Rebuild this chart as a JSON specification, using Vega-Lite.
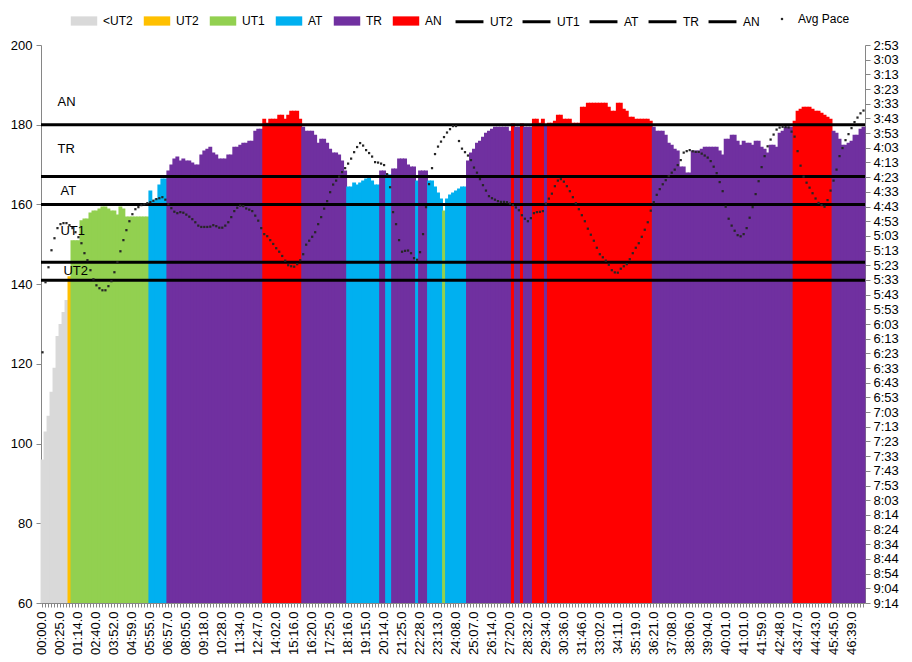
{
  "$schema": "https://vega.github.io/schema/vega-lite/v6.json",
  "width": 824,
  "height": 558,
  "autosize": {"type": "none"},
  "padding": {"left": 41, "top": 45, "right": 47, "bottom": 59},
  "background": "white",
  "config": {"font": "Liberation Sans", "view": {"stroke": null}},
  "data": {"values": [
{"i":0,"hr":96,"z":"<UT2","p":382.6},{"i":1,"hr":103,"z":"<UT2","p":334.8},{"i":2,"hr":107,"z":"<UT2","p":324.6},{"i":3,"hr":113,"z":"<UT2","p":313.0},{"i":4,"hr":119,"z":"<UT2","p":304.8},{"i":5,"hr":127,"z":"<UT2","p":297.9},{"i":6,"hr":130,"z":"<UT2","p":295.2},{"i":7,"hr":133,"z":"<UT2","p":294.5},{"i":8,"hr":136,"z":"<UT2","p":294.5},{"i":9,"hr":142,"z":"UT2","p":295.9},
{"i":10,"hr":151,"z":"UT1","p":297.9},{"i":11,"hr":151,"z":"UT1","p":300.7},{"i":12,"hr":151,"z":"UT1","p":304.1},{"i":13,"hr":156,"z":"UT1","p":308.2},{"i":14,"hr":156.5,"z":"UT1","p":315.0},{"i":15,"hr":156.5,"z":"UT1","p":319.8},{"i":16,"hr":158,"z":"UT1","p":326.6},{"i":17,"hr":158.5,"z":"UT1","p":332.8},{"i":18,"hr":158.5,"z":"UT1","p":336.9},{"i":19,"hr":159,"z":"UT1","p":338.9},
{"i":20,"hr":159.5,"z":"UT1","p":340.3},{"i":21,"hr":159.5,"z":"UT1","p":340.3},{"i":22,"hr":159,"z":"UT1","p":337.5},{"i":23,"hr":158.5,"z":"UT1","p":334.1},{"i":24,"hr":158.5,"z":"UT1","p":328.0},{"i":25,"hr":157.5,"z":"UT1","p":321.2},{"i":26,"hr":159.5,"z":"UT1","p":313.7},{"i":27,"hr":159,"z":"UT1","p":306.1},{"i":28,"hr":157,"z":"UT1","p":299.3},{"i":29,"hr":157,"z":"UT1","p":293.2},
{"i":30,"hr":157,"z":"UT1","p":288.4},{"i":31,"hr":157,"z":"UT1","p":285.0},{"i":32,"hr":157,"z":"UT1","p":283.6},{"i":33,"hr":157,"z":"UT1","p":282.2},{"i":34,"hr":157,"z":"UT1","p":281.6},{"i":35,"hr":157,"z":"UT1","p":280.9},{"i":36,"hr":163.5,"z":"AT","p":280.2},{"i":37,"hr":161,"z":"AT","p":279.2},{"i":38,"hr":161.5,"z":"AT","p":278.1},{"i":39,"hr":165,"z":"AT","p":277.5},
{"i":40,"hr":166.5,"z":"AT","p":276.8},{"i":41,"hr":166.5,"z":"AT","p":278.5},{"i":42,"hr":168.5,"z":"TR","p":281.6},{"i":43,"hr":170,"z":"TR","p":284.3},{"i":44,"hr":171.5,"z":"TR","p":286.7},{"i":45,"hr":172,"z":"TR","p":287.7},{"i":46,"hr":171,"z":"TR","p":287.0},{"i":47,"hr":171.5,"z":"TR","p":287.4},{"i":48,"hr":171,"z":"TR","p":288.7},{"i":49,"hr":171,"z":"TR","p":290.1},
{"i":50,"hr":170.5,"z":"TR","p":291.8},{"i":51,"hr":170,"z":"TR","p":293.9},{"i":52,"hr":170,"z":"TR","p":296.2},{"i":53,"hr":172.5,"z":"TR","p":297.1},{"i":54,"hr":173.5,"z":"TR","p":297.1},{"i":55,"hr":174,"z":"TR","p":297.1},{"i":56,"hr":174.5,"z":"TR","p":296.9},{"i":57,"hr":173,"z":"TR","p":295.9},{"i":58,"hr":172.5,"z":"TR","p":296.6},{"i":59,"hr":171.5,"z":"TR","p":297.6},
{"i":60,"hr":171.5,"z":"TR","p":297.6},{"i":61,"hr":171.5,"z":"TR","p":296.2},{"i":62,"hr":172.5,"z":"TR","p":293.9},{"i":63,"hr":172.5,"z":"TR","p":290.4},{"i":64,"hr":174.5,"z":"TR","p":286.3},{"i":65,"hr":174.5,"z":"TR","p":284.0},{"i":66,"hr":175,"z":"TR","p":282.6},{"i":67,"hr":175.5,"z":"TR","p":282.9},{"i":68,"hr":175.5,"z":"TR","p":284.5},{"i":69,"hr":176,"z":"TR","p":285.3},
{"i":70,"hr":176,"z":"TR","p":286.3},{"i":71,"hr":178.5,"z":"TR","p":289.4},{"i":72,"hr":179,"z":"TR","p":292.8},{"i":73,"hr":179,"z":"TR","p":297.9},{"i":74,"hr":181.5,"z":"AN","p":302.0},{"i":75,"hr":180.5,"z":"AN","p":303.4},{"i":76,"hr":181.5,"z":"AN","p":306.1},{"i":77,"hr":181.5,"z":"AN","p":308.7},{"i":78,"hr":181.5,"z":"AN","p":311.6},{"i":79,"hr":182.5,"z":"AN","p":314.0},
{"i":80,"hr":182.5,"z":"AN","p":316.9},{"i":81,"hr":181.5,"z":"AN","p":320.1},{"i":82,"hr":182.5,"z":"AN","p":323.2},{"i":83,"hr":183.5,"z":"AN","p":323.9},{"i":84,"hr":183.5,"z":"AN","p":324.2},{"i":85,"hr":183.5,"z":"AN","p":322.5},{"i":86,"hr":181.5,"z":"AN","p":319.8},{"i":87,"hr":179.5,"z":"TR","p":315.7},{"i":88,"hr":178.5,"z":"TR","p":309.2},{"i":89,"hr":178.5,"z":"TR","p":306.5},
{"i":90,"hr":178.5,"z":"TR","p":303.8},{"i":91,"hr":177.5,"z":"TR","p":300.7},{"i":92,"hr":175.5,"z":"TR","p":295.2},{"i":93,"hr":176.5,"z":"TR","p":290.4},{"i":94,"hr":176.5,"z":"TR","p":284.6},{"i":95,"hr":175.5,"z":"TR","p":279.5},{"i":96,"hr":174,"z":"TR","p":273.4},{"i":97,"hr":173,"z":"TR","p":268.2},{"i":98,"hr":173,"z":"TR","p":265.5},{"i":99,"hr":172.5,"z":"TR","p":262.8},
{"i":100,"hr":171,"z":"TR","p":259.7},{"i":101,"hr":168.5,"z":"TR","p":257.0},{"i":102,"hr":164.5,"z":"AT","p":253.9},{"i":103,"hr":164.5,"z":"AT","p":250.5},{"i":104,"hr":165.5,"z":"AT","p":246.1},{"i":105,"hr":165,"z":"AT","p":242.6},{"i":106,"hr":165.5,"z":"AT","p":239.9},{"i":107,"hr":166,"z":"AT","p":241.6},{"i":108,"hr":166.5,"z":"AT","p":244.7},{"i":109,"hr":167,"z":"AT","p":246.7},
{"i":110,"hr":166,"z":"AT","p":249.1},{"i":111,"hr":165,"z":"AT","p":252.9},{"i":112,"hr":165,"z":"AT","p":253.2},{"i":113,"hr":168.5,"z":"TR","p":253.9},{"i":114,"hr":168.5,"z":"TR","p":254.9},{"i":115,"hr":167.5,"z":"AT","p":261.1},{"i":116,"hr":167.5,"z":"AT","p":270.0},{"i":117,"hr":169,"z":"TR","p":287.0},{"i":118,"hr":169,"z":"TR","p":295.2},{"i":119,"hr":171.5,"z":"TR","p":306.1},
{"i":120,"hr":171.5,"z":"TR","p":314.0},{"i":121,"hr":171.5,"z":"TR","p":313.4},{"i":122,"hr":170,"z":"TR","p":313.2},{"i":123,"hr":169.5,"z":"TR","p":315.0},{"i":124,"hr":169.5,"z":"TR","p":318.4},{"i":125,"hr":166,"z":"AT","p":319.5},{"i":126,"hr":168.5,"z":"TR","p":314.3},{"i":127,"hr":168.5,"z":"TR","p":302.0},{"i":128,"hr":168.5,"z":"TR","p":283.6},{"i":129,"hr":166,"z":"AT","p":267.9},
{"i":130,"hr":166,"z":"AT","p":257.0},{"i":131,"hr":164.5,"z":"AT","p":247.4},{"i":132,"hr":163,"z":"AT","p":242.3},{"i":133,"hr":161.5,"z":"AT","p":238.9},{"i":134,"hr":158.5,"z":"UT1","p":235.8},{"i":135,"hr":161.5,"z":"AT","p":232.7},{"i":136,"hr":162.5,"z":"AT","p":230.4},{"i":137,"hr":163,"z":"AT","p":228.3},{"i":138,"hr":163.5,"z":"AT","p":228.3},{"i":139,"hr":164,"z":"AT","p":238.5},
{"i":140,"hr":164.5,"z":"AT","p":243.7},{"i":141,"hr":164.5,"z":"AT","p":246.1},{"i":142,"hr":171,"z":"TR","p":248.4},{"i":143,"hr":173,"z":"TR","p":251.5},{"i":144,"hr":174,"z":"TR","p":256.6},{"i":145,"hr":175.5,"z":"TR","p":260.1},{"i":146,"hr":176,"z":"TR","p":264.5},{"i":147,"hr":177,"z":"TR","p":268.6},{"i":148,"hr":178,"z":"TR","p":272.3},{"i":149,"hr":178.5,"z":"TR","p":276.1},
{"i":150,"hr":179,"z":"TR","p":277.5},{"i":151,"hr":179.5,"z":"TR","p":278.5},{"i":152,"hr":179.5,"z":"TR","p":279.5},{"i":153,"hr":179.5,"z":"TR","p":280.0},{"i":154,"hr":179.5,"z":"TR","p":280.0},{"i":155,"hr":179.5,"z":"TR","p":280.2},{"i":156,"hr":178.5,"z":"TR","p":281.2},{"i":157,"hr":180.3,"z":"AN","p":282.2},{"i":158,"hr":179.5,"z":"TR","p":283.8},{"i":159,"hr":179.5,"z":"TR","p":285.7},
{"i":160,"hr":180.3,"z":"AN","p":289.1},{"i":161,"hr":179.5,"z":"TR","p":291.5},{"i":162,"hr":179.5,"z":"TR","p":293.2},{"i":163,"hr":179.5,"z":"TR","p":291.1},{"i":164,"hr":181.5,"z":"AN","p":287.7},{"i":165,"hr":181.5,"z":"AN","p":287.0},{"i":166,"hr":180.5,"z":"AN","p":286.8},{"i":167,"hr":181.5,"z":"AN","p":286.3},{"i":168,"hr":179.8,"z":"TR","p":281.2},{"i":169,"hr":180.5,"z":"AN","p":277.8},
{"i":170,"hr":180.5,"z":"AN","p":274.4},{"i":171,"hr":181,"z":"AN","p":269.3},{"i":172,"hr":182.5,"z":"AN","p":265.5},{"i":173,"hr":182.5,"z":"AN","p":264.5},{"i":174,"hr":181.5,"z":"AN","p":266.2},{"i":175,"hr":181.5,"z":"AN","p":269.3},{"i":176,"hr":181.5,"z":"AN","p":272.7},{"i":177,"hr":180.5,"z":"AN","p":276.8},{"i":178,"hr":180.5,"z":"AN","p":280.9},{"i":179,"hr":180.5,"z":"AN","p":285.0},
{"i":180,"hr":184.5,"z":"AN","p":289.1},{"i":181,"hr":184.5,"z":"AN","p":293.2},{"i":182,"hr":185.5,"z":"AN","p":298.3},{"i":183,"hr":185.5,"z":"AN","p":302.4},{"i":184,"hr":185.5,"z":"AN","p":306.5},{"i":185,"hr":185.5,"z":"AN","p":311.3},{"i":186,"hr":185.5,"z":"AN","p":315.7},{"i":187,"hr":185.5,"z":"AN","p":317.8},{"i":188,"hr":185.5,"z":"AN","p":320.1},{"i":189,"hr":184.5,"z":"AN","p":322.9},
{"i":190,"hr":183.5,"z":"AN","p":326.6},{"i":191,"hr":183.5,"z":"AN","p":328.1},{"i":192,"hr":185.5,"z":"AN","p":328.3},{"i":193,"hr":185.5,"z":"AN","p":325.6},{"i":194,"hr":184,"z":"AN","p":323.9},{"i":195,"hr":183.5,"z":"AN","p":322.5},{"i":196,"hr":182,"z":"AN","p":319.1},{"i":197,"hr":182,"z":"AN","p":315.0},{"i":198,"hr":181.5,"z":"AN","p":311.3},{"i":199,"hr":181.5,"z":"AN","p":308.2},
{"i":200,"hr":181.5,"z":"AN","p":303.8},{"i":201,"hr":181.5,"z":"AN","p":299.0},{"i":202,"hr":181.5,"z":"AN","p":293.9},{"i":203,"hr":181,"z":"AN","p":286.0},{"i":204,"hr":179.5,"z":"TR","p":280.2},{"i":205,"hr":178.5,"z":"TR","p":275.2},{"i":206,"hr":178.5,"z":"TR","p":271.3},{"i":207,"hr":178.5,"z":"TR","p":268.0},{"i":208,"hr":177.5,"z":"TR","p":265.2},{"i":209,"hr":175.5,"z":"TR","p":262.4},
{"i":210,"hr":175,"z":"TR","p":260.1},{"i":211,"hr":174,"z":"TR","p":258.0},{"i":212,"hr":173.5,"z":"TR","p":254.9},{"i":213,"hr":169.5,"z":"TR","p":251.5},{"i":214,"hr":169.5,"z":"TR","p":246.4},{"i":215,"hr":168,"z":"TR","p":245.4},{"i":216,"hr":168,"z":"TR","p":244.7},{"i":217,"hr":173.5,"z":"TR","p":245.5},{"i":218,"hr":173.5,"z":"TR","p":245.9},{"i":219,"hr":173.5,"z":"TR","p":245.9},
{"i":220,"hr":174,"z":"TR","p":247.1},{"i":221,"hr":174.5,"z":"TR","p":248.4},{"i":222,"hr":174.5,"z":"TR","p":249.8},{"i":223,"hr":174.5,"z":"TR","p":252.2},{"i":224,"hr":174.5,"z":"TR","p":256.0},{"i":225,"hr":174.5,"z":"TR","p":260.4},{"i":226,"hr":173.5,"z":"TR","p":266.5},{"i":227,"hr":172.5,"z":"TR","p":272.7},{"i":228,"hr":176.5,"z":"TR","p":283.3},{"i":229,"hr":176.5,"z":"TR","p":291.5},
{"i":230,"hr":177.5,"z":"TR","p":296.2},{"i":231,"hr":177.5,"z":"TR","p":299.7},{"i":232,"hr":176,"z":"TR","p":302.7},{"i":233,"hr":175,"z":"TR","p":303.5},{"i":234,"hr":176,"z":"TR","p":302.0},{"i":235,"hr":175.5,"z":"TR","p":297.9},{"i":236,"hr":175.5,"z":"TR","p":290.8},{"i":237,"hr":175,"z":"TR","p":283.6},{"i":238,"hr":176,"z":"TR","p":274.7},{"i":239,"hr":176,"z":"TR","p":265.9},
{"i":240,"hr":174.5,"z":"TR","p":256.3},{"i":241,"hr":174,"z":"TR","p":248.8},{"i":242,"hr":173,"z":"TR","p":242.1},{"i":243,"hr":175,"z":"TR","p":237.5},{"i":244,"hr":175,"z":"TR","p":234.1},{"i":245,"hr":174.5,"z":"TR","p":230.7},{"i":246,"hr":178,"z":"TR","p":229.3},{"i":247,"hr":178.5,"z":"TR","p":228.8},{"i":248,"hr":179.5,"z":"TR","p":229.0},{"i":249,"hr":179.5,"z":"TR","p":229.2},
{"i":250,"hr":179.5,"z":"TR","p":232.1},{"i":251,"hr":181,"z":"AN","p":235.5},{"i":252,"hr":183.5,"z":"AN","p":245.4},{"i":253,"hr":184,"z":"AN","p":255.3},{"i":254,"hr":184.5,"z":"AN","p":262.8},{"i":255,"hr":184.5,"z":"AN","p":266.9},{"i":256,"hr":184.5,"z":"AN","p":270.3},{"i":257,"hr":184,"z":"AN","p":274.1},{"i":258,"hr":183.5,"z":"AN","p":277.7},{"i":259,"hr":183.5,"z":"AN","p":280.7},
{"i":260,"hr":183,"z":"AN","p":282.2},{"i":261,"hr":182.5,"z":"AN","p":283.3},{"i":262,"hr":182,"z":"AN","p":278.8},{"i":263,"hr":181.5,"z":"AN","p":272.3},{"i":264,"hr":178.5,"z":"TR","p":265.5},{"i":265,"hr":178,"z":"TR","p":258.0},{"i":266,"hr":176.5,"z":"TR","p":248.8},{"i":267,"hr":175,"z":"TR","p":243.3},{"i":268,"hr":175,"z":"TR","p":237.9},{"i":269,"hr":175.5,"z":"TR","p":233.8},
{"i":270,"hr":176,"z":"TR","p":229.7},{"i":271,"hr":177.5,"z":"TR","p":225.6},{"i":272,"hr":177.5,"z":"TR","p":222.5},{"i":273,"hr":179,"z":"TR","p":219.6},{"i":274,"hr":179.5,"z":"TR","p":217.7}
  ]},
  "resolve": {"scale": {"y": "independent"}, "axis": {"y": "independent"}},
  "layer": [
    {
      "layer": [
        {
          "mark": {"type": "bar", "width": {"band": 1.3}},
          "encoding": {
            "x": {"field": "i", "type": "ordinal", "scale": {"paddingInner": 0, "paddingOuter": 0},
              "axis": {"title": null, "labelAngle": 270, "labelOverlap": false, "labelFontSize": 13, "labelColor": "#000", "labelPadding": 4, "tickSize": 4, "tickColor": "#868686", "domainColor": "#868686",
                "labelExpr": "datum.value % 6 == 0 ? ['00:00.0','00:25.0','01:14.0','02:40.0','03:52.0','04:59.0','05:55.0','06:57.0','08:05.0','09:18.0','10:28.0','11:34.0','12:47.0','14:02.0','15:16.0','16:20.0','17:25.0','18:16.0','19:15.0','20:14.0','21:25.0','22:28.0','23:13.0','24:08.0','25:07.0','26:14.0','27:20.0','28:32.0','29:34.0','30:36.0','31:46.0','33:02.0','34:11.0','35:19.0','36:21.0','37:08.0','38:06.0','39:04.0','40:01.0','41:01.0','41:59.0','42:48.0','43:47.0','44:43.0','45:45.0','46:39.0'][datum.value / 6] : ''"}},
            "y": {"field": "hr", "type": "quantitative", "scale": {"domain": [60, 200], "nice": false, "zero": false},
              "axis": {"title": null, "orient": "left", "values": [60, 80, 100, 120, 140, 160, 180, 200], "grid": false, "labelFontSize": 13, "labelColor": "#000", "tickSize": 5, "labelPadding": 4, "tickColor": "#868686", "domainColor": "#868686"}},
            "y2": {"datum": 60},
            "color": {"field": "z", "type": "nominal",
              "scale": {"domain": ["<UT2", "UT2", "UT1", "AT", "TR", "AN"],
                        "range": ["#D9D9D9", "#FFC000", "#92D050", "#00B0F0", "#7030A0", "#FF0000"]},
              "legend": {"title": null, "orient": "none", "legendX": 29, "legendY": -38, "direction": "horizontal",
                "symbolSize": 700, "symbolType": "M-1,-0.35H1V0.35H-1Z", "symbolOpacity": 1, "labelFontSize": 12, "labelColor": "#000", "labelOffset": 5, "columnPadding": 10}}
          }
        },
        {
          "data": {"values": [
            {"z": "UT2", "hr": 141},
            {"z": "UT1", "hr": 145.5},
            {"z": "AT", "hr": 160},
            {"z": "TR", "hr": 167},
            {"z": "AN", "hr": 180}
          ]},
          "mark": {"type": "rule", "strokeWidth": 3},
          "encoding": {
            "y": {"field": "hr", "type": "quantitative"},
            "stroke": {"field": "z", "type": "nominal",
              "scale": {"domain": ["UT2", "UT1", "AT", "TR", "AN"], "range": ["#000000", "#000000", "#000000", "#000000", "#000000"]},
              "legend": {"title": null, "orient": "none", "legendX": 413, "legendY": -39, "direction": "horizontal",
                "symbolType": "stroke", "symbolSize": 780, "symbolStrokeWidth": 3, "symbolOpacity": 1, "labelFontSize": 12, "labelColor": "#000", "labelOffset": 5, "columnPadding": 3}}
          }
        },
        {
          "data": {"values": [
            {"label": "AN", "hr": 185.6, "i": 5},
            {"label": "TR", "hr": 173.9, "i": 5},
            {"label": "AT", "hr": 163.4, "i": 6},
            {"label": "UT1", "hr": 153.3, "i": 6},
            {"label": "UT2", "hr": 143.3, "i": 7}
          ]},
          "mark": {"type": "text", "align": "left", "baseline": "middle", "fontSize": 13, "color": "#000"},
          "encoding": {
            "x": {"field": "i", "type": "ordinal"},
            "y": {"field": "hr", "type": "quantitative"},
            "text": {"field": "label"}
          }
        }
      ]
    },
    {
      "mark": {"type": "point", "filled": true, "size": 5, "opacity": 1, "color": "#262626"},
      "encoding": {
        "x": {"field": "i", "type": "ordinal"},
        "y": {"field": "p", "type": "quantitative",
          "scale": {"domain": [173, 553.6], "reverse": true, "nice": false, "zero": false},
          "axis": {"title": null, "orient": "right", "grid": false, "labelFontSize": 13, "labelColor": "#000", "tickSize": 5, "labelPadding": 3, "tickColor": "#868686", "domainColor": "#868686",
            "values": [173, 183.016, 193.032, 203.047, 213.063, 223.079, 233.095, 243.111, 253.126, 263.142, 273.158, 283.174, 293.19, 303.205, 313.221, 323.237, 333.253, 343.269, 353.284, 363.3, 373.316, 383.332, 393.348, 403.363, 413.379, 423.395, 433.411, 443.427, 453.442, 463.458, 473.474, 483.49, 493.506, 503.521, 513.537, 523.553, 533.569, 543.585, 553.6],
            "labelExpr": "floor(round(datum.value) / 60) + ':' + (round(datum.value) % 60 < 10 ? '0' : '') + (round(datum.value) % 60)"}},
        "shape": {"datum": "Avg Pace", "type": "nominal", "scale": {"domain": ["Avg Pace"], "range": ["square"]},
          "legend": {"title": null, "orient": "none", "legendX": 735, "legendY": -32, "symbolSize": 5, "symbolFillColor": "#262626", "symbolStrokeColor": "#262626", "symbolOpacity": 1, "labelFontSize": 12, "labelColor": "#000", "labelOffset": 10}}
      }
    }
  ]
}
